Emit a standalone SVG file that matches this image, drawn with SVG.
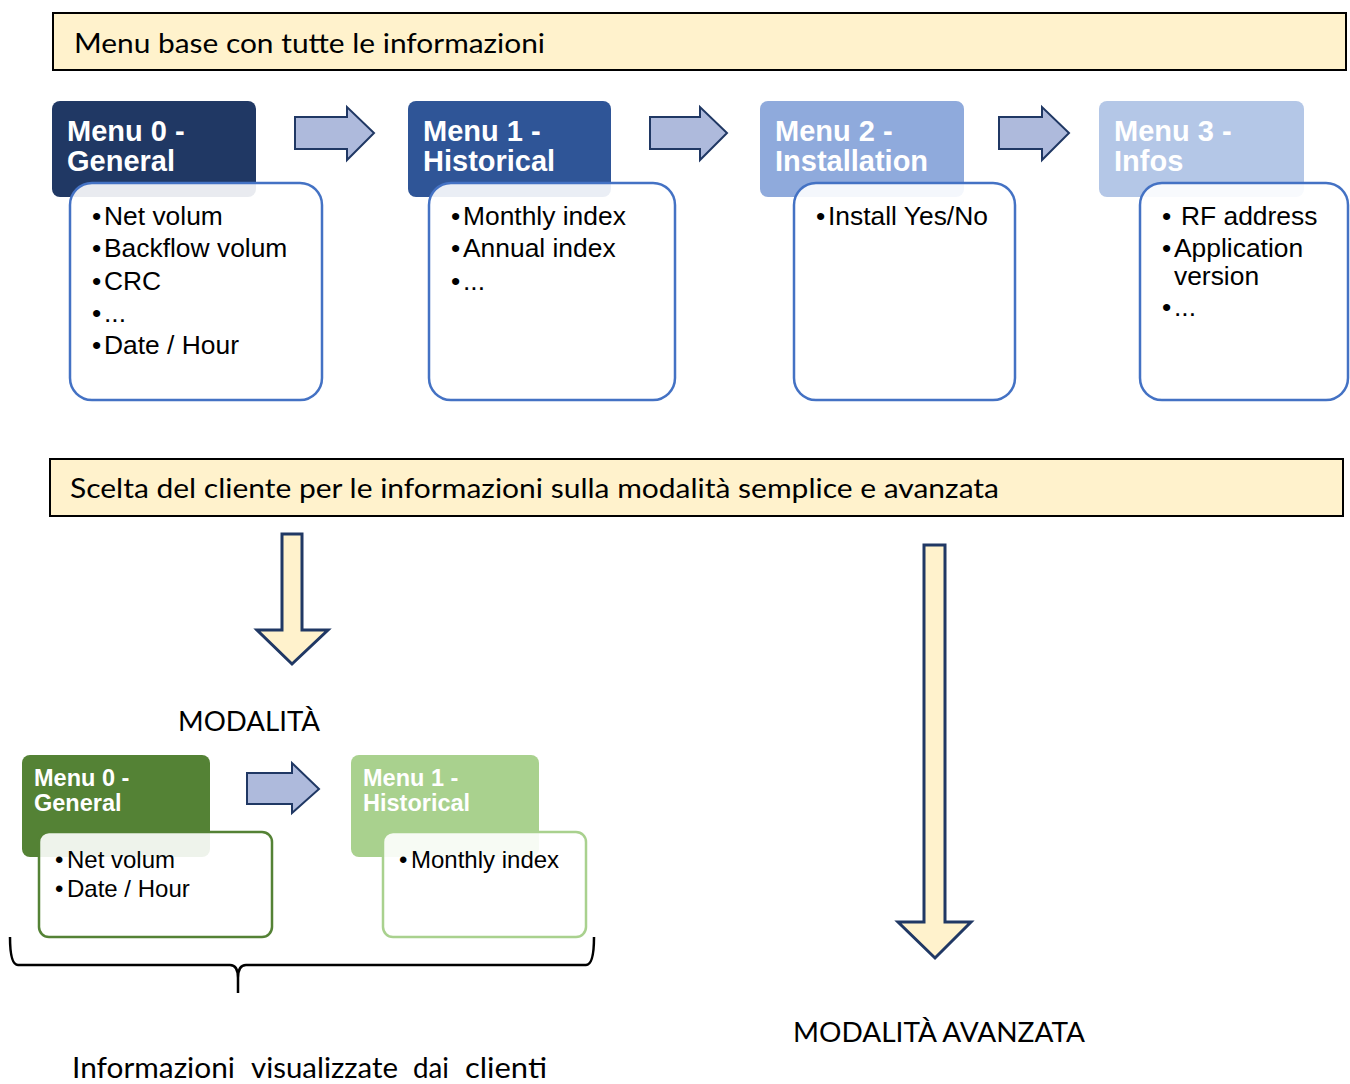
<svg xmlns="http://www.w3.org/2000/svg" width="1350" height="1084" viewBox="0 0 1350 1084">
<style>
.banner{fill:#FFF2CC;stroke:#000;stroke-width:2}
.btxt{font-family:Lato,"Liberation Sans",sans-serif;font-size:27px;fill:#000}
.tab{stroke:none}
.ttl{font-family:"Liberation Sans",Arial,sans-serif;font-weight:bold;font-size:29px;fill:#fff}
.ttl2{font-family:"Liberation Sans",Arial,sans-serif;font-weight:bold;font-size:23.5px;fill:#fff}
.box{fill:#fff;fill-opacity:0.9;stroke:#4472C4;stroke-width:2.5}
.itm{font-family:"Liberation Sans",Arial,sans-serif;font-size:26.4px;fill:#000}
.itm2{font-family:"Liberation Sans",Arial,sans-serif;font-size:24px;fill:#000}
.rarr{fill:#AEBADC;stroke:#203864;stroke-width:2;stroke-linejoin:miter}
.darr{fill:#FFF2CC;stroke:#203864;stroke-width:3;stroke-linejoin:miter}
.lbl{font-family:Lato,"Liberation Sans",sans-serif;font-size:27px;fill:#000}
.lbl2{font-family:Lato,"Liberation Sans",sans-serif;font-size:29px;fill:#000}
</style>

<g id="banner-top">
<rect class="banner" x="53" y="13" width="1293" height="57"/>
<text class="btxt" x="74" y="53" textLength="471" lengthAdjust="spacingAndGlyphs">Menu base con tutte le informazioni</text>
</g>

<g id="menu0">
<rect class="tab" x="52" y="101" width="204" height="96" rx="8" fill="#203864"/>
<text class="ttl" x="67" y="141">Menu 0 -</text>
<text class="ttl" x="67" y="171">General</text>
<rect class="box" x="70" y="183" width="252" height="217" rx="22"/>
<text class="itm" x="92" y="225">•</text><text class="itm" x="104" y="225">Net volum</text>
<text class="itm" x="92" y="257">•</text><text class="itm" x="104" y="257">Backflow volum</text>
<text class="itm" x="92" y="290">•</text><text class="itm" x="104" y="290">CRC</text>
<text class="itm" x="92" y="322">•</text><text class="itm" x="104" y="322">...</text>
<text class="itm" x="92" y="354">•</text><text class="itm" x="104" y="354">Date / Hour</text>
</g>

<g id="menu1">
<rect class="tab" x="408" y="101" width="203" height="96" rx="8" fill="#2F5597"/>
<text class="ttl" x="423" y="141">Menu 1 -</text>
<text class="ttl" x="423" y="171">Historical</text>
<rect class="box" x="429" y="183" width="246" height="217" rx="22"/>
<text class="itm" x="451" y="225">•</text><text class="itm" x="463" y="225">Monthly index</text>
<text class="itm" x="451" y="257">•</text><text class="itm" x="463" y="257">Annual index</text>
<text class="itm" x="451" y="290">•</text><text class="itm" x="463" y="290">...</text>
</g>

<g id="menu2">
<rect class="tab" x="760" y="101" width="204" height="96" rx="8" fill="#8FAADC"/>
<text class="ttl" x="775" y="141">Menu 2 -</text>
<text class="ttl" x="775" y="171">Installation</text>
<rect class="box" x="794" y="183" width="221" height="217" rx="22"/>
<text class="itm" x="816" y="225">•</text><text class="itm" x="828" y="225">Install Yes/No</text>
</g>

<g id="menu3">
<rect class="tab" x="1099" y="101" width="205" height="96" rx="8" fill="#B4C7E7"/>
<text class="ttl" x="1114" y="141">Menu 3 -</text>
<text class="ttl" x="1114" y="171">Infos</text>
<rect class="box" x="1140" y="183" width="208" height="217" rx="22"/>
<text class="itm" x="1162" y="225">•</text><text class="itm" x="1181" y="225">RF address</text>
<text class="itm" x="1162" y="257">•</text><text class="itm" x="1174" y="257">Application</text>
<text class="itm" x="1174" y="285">version</text>
<text class="itm" x="1162" y="316">•</text><text class="itm" x="1174" y="316">...</text>
</g>

<g id="banner-mid">
<rect class="banner" x="50" y="459" width="1293" height="57"/>
<text class="btxt" x="70" y="498" textLength="929" lengthAdjust="spacingAndGlyphs">Scelta del cliente per le informazioni sulla modalità semplice e avanzata</text>
</g>

<g id="label-modalita">
<text class="lbl" x="178" y="731" textLength="142" lengthAdjust="spacingAndGlyphs">MODALITÀ</text>
</g>

<g id="label-avanzata">
<text class="lbl" x="793" y="1042" textLength="292" lengthAdjust="spacingAndGlyphs">MODALITÀ AVANZATA</text>
</g>

<g id="menu0-simple">
<rect class="tab" x="22" y="755" width="188" height="102" rx="8" fill="#548235"/>
<text class="ttl2" x="34" y="786">Menu 0 -</text>
<text class="ttl2" x="34" y="811">General</text>
<rect class="box" x="39" y="832" width="233" height="105" rx="10" style="stroke:#548235"/>
<text class="itm2" x="55" y="868">•</text><text class="itm2" x="67" y="868">Net volum</text>
<text class="itm2" x="55" y="897">•</text><text class="itm2" x="67" y="897">Date / Hour</text>
</g>

<g id="menu1-simple">
<rect class="tab" x="351" y="755" width="188" height="102" rx="8" fill="#A9D18E"/>
<text class="ttl2" x="363" y="786">Menu 1 -</text>
<text class="ttl2" x="363" y="811">Historical</text>
<rect class="box" x="383" y="832" width="203" height="105" rx="10" style="stroke:#A9D18E"/>
<text class="itm2" x="399" y="868">•</text><text class="itm2" x="411" y="868">Monthly index</text>
</g>

<g id="label-clienti">
<text class="lbl2" y="1078"><tspan x="72" textLength="163" lengthAdjust="spacingAndGlyphs">Informazioni</tspan><tspan x="251" textLength="147" lengthAdjust="spacingAndGlyphs">visualizzate</tspan><tspan x="413" textLength="36" lengthAdjust="spacingAndGlyphs">dai</tspan><tspan x="465" textLength="82" lengthAdjust="spacingAndGlyphs">clienti</tspan></text>
</g>

<g id="connectors">
<path class="rarr" d="M295,117 H347 V107 L374,133 L347,160 V149 H295 Z"/>
<path class="rarr" d="M650,117 H700 V107 L727,133 L700,160 V149 H650 Z"/>
<path class="rarr" d="M999,117 H1042 V107 L1069,133 L1042,160 V149 H999 Z"/>
<path class="rarr" d="M247,773 H292 V763 L319,789 L292,813 V804 H247 Z"/>
<path class="darr" d="M282,534 H302 V630 H328 L292,664 L257,630 H282 Z"/>
<path class="darr" d="M924,545 H945 V922 H971 L935,958 L898,922 H924 Z"/>
<path d="M10,937 Q10,965 18,965 L230,965 Q238,965 238,978 L238,993 M238,978 Q238,965 246,965 L586,965 Q594,965 594,937" fill="none" stroke="#000" stroke-width="2.5"/>
</g>
</svg>
